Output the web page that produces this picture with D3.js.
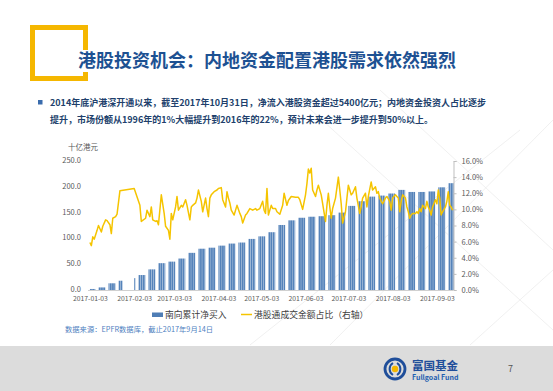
<!doctype html>
<html lang="zh">
<head>
<meta charset="UTF-8">
<title>港股投资机会</title>
<style>
  body { margin: 0; background: #fff; }
  text { font-family: "Noto Sans CJK SC", "Noto Sans", sans-serif; }
</style>
</head>
<body>
<svg id="slide" width="553" height="391"></svg>
<script src="https://d3js.org/d3.v7.min.js"></script>
<script>
// weekly cumulative southbound net buy (HKD bn): [first trading day, last trading day, value]
const netBuyWeeks = [
  ["01-03", "01-06", 2], ["01-09", "01-13", 5], ["01-16", "01-20", 13], ["01-23", "01-25", 18],
  ["02-03", "02-03", 23], ["02-06", "02-10", 29], ["02-13", "02-17", 40], ["02-20", "02-24", 52],
  ["02-27", "03-03", 55], ["03-06", "03-10", 61], ["03-13", "03-17", 72], ["03-20", "03-24", 80],
  ["03-27", "03-31", 82], ["04-03", "04-07", 86], ["04-10", "04-14", 90], ["04-17", "04-21", 92],
  ["04-24", "04-28", 99], ["05-01", "05-05", 104], ["05-08", "05-12", 112], ["05-15", "05-19", 126],
  ["05-22", "05-26", 135], ["05-29", "06-02", 140], ["06-05", "06-09", 142], ["06-12", "06-16", 143],
  ["06-19", "06-23", 145], ["06-26", "06-30", 150], ["07-03", "07-07", 163], ["07-10", "07-14", 172],
  ["07-17", "07-21", 181], ["07-24", "07-28", 183], ["07-31", "08-04", 187], ["08-07", "08-11", 194],
  ["08-14", "08-18", 190], ["08-21", "08-25", 190], ["08-28", "09-01", 191], ["09-04", "09-08", 199],
  ["09-11", "09-14", 207]
];

// share of Stock Connect in turnover (%), right axis
const turnoverShare = [
  ["01-03", 5.9], ["01-04", 5.5], ["01-05", 6.6], ["01-06", 6.3], ["01-08", 7.4], ["01-09", 8.0],
  ["01-11", 7.2], ["01-12", 7.9], ["01-14", 8.7], ["01-15", 8.6], ["01-17", 8.1], ["01-18", 7.0],
  ["01-19", 8.9], ["01-21", 9.1], ["01-22", 9.4], ["01-24", 12.3], ["02-03", 12.6], ["02-07", 10.5],
  ["02-08", 8.5], ["02-11", 8.9], ["02-12", 9.9], ["02-14", 9.1], ["02-15", 10.3], ["02-16", 8.7],
  ["02-18", 8.5], ["02-19", 8.6], ["02-20", 8.1], ["02-22", 11.8], ["02-24", 9.5], ["02-25", 7.9],
  ["02-27", 7.4], ["02-28", 6.3], ["03-01", 9.5], ["03-02", 8.7], ["03-04", 10.3], ["03-05", 11.6],
  ["03-06", 9.9], ["03-08", 10.5], ["03-09", 10.3], ["03-11", 11.2], ["03-12", 10.5], ["03-14", 8.7],
  ["03-15", 10.3], ["03-16", 10.5], ["03-18", 10.8], ["03-19", 11.4], ["03-20", 12.4], ["03-22", 11.0],
  ["03-23", 9.7], ["03-25", 11.4], ["03-26", 10.1], ["03-27", 9.1], ["03-28", 11.4], ["03-29", 11.8],
  ["03-31", 12.2], ["04-02", 12.4], ["04-03", 12.6], ["04-05", 12.7], ["04-06", 11.2], ["04-08", 10.3],
  ["04-09", 12.2], ["04-10", 11.4], ["04-11", 10.8], ["04-12", 9.9], ["04-14", 9.3], ["04-16", 10.5],
  ["04-18", 9.5], ["04-19", 9.1], ["04-20", 8.3], ["04-22", 9.3], ["04-23", 9.5], ["04-25", 10.1],
  ["04-27", 9.9], ["04-29", 10.1], ["04-30", 9.9], ["05-02", 10.1], ["05-04", 11.0], ["05-05", 9.9],
  ["05-06", 9.5], ["05-07", 12.6], ["05-08", 9.3], ["05-10", 10.5], ["05-11", 10.1], ["05-13", 10.1],
  ["05-14", 9.7], ["05-16", 9.4], ["05-18", 10.5], ["05-19", 12.0], ["05-21", 10.5], ["05-22", 11.1],
  ["05-24", 11.6], ["05-27", 11.5], ["05-29", 11.5], ["05-30", 11.2], ["06-01", 10.0], ["06-03", 11.8],
  ["06-04", 13.2], ["06-05", 15.0], ["06-06", 14.5], ["06-07", 15.1], ["06-08", 12.4], ["06-10", 11.6],
  ["06-11", 12.4], ["06-12", 13.0], ["06-14", 11.8], ["06-15", 10.7], ["06-17", 8.5], ["06-18", 10.5],
  ["06-19", 12.0], ["06-20", 10.3], ["06-21", 8.9], ["06-22", 10.1], ["06-24", 11.4], ["06-26", 14.0],
  ["06-27", 12.4], ["06-28", 10.7], ["06-29", 8.3], ["07-01", 9.7], ["07-02", 11.4], ["07-03", 13.0],
  ["07-04", 12.4], ["07-05", 11.8], ["07-06", 12.0], ["07-08", 12.8], ["07-09", 11.4], ["07-11", 9.5],
  ["07-12", 10.3], ["07-13", 11.4], ["07-15", 12.0], ["07-16", 10.3], ["07-17", 11.6], ["07-19", 13.4],
  ["07-20", 12.4], ["07-22", 12.8], ["07-23", 12.0], ["07-24", 12.2], ["07-25", 11.4], ["07-26", 11.0],
  ["07-27", 10.7], ["07-29", 11.4], ["07-30", 11.6], ["08-01", 11.0], ["08-02", 9.9], ["08-03", 11.4],
  ["08-05", 11.8], ["08-06", 11.6], ["08-07", 11.4], ["08-08", 9.7], ["08-09", 11.0], ["08-10", 11.8],
  ["08-12", 11.4], ["08-13", 10.3], ["08-14", 9.7], ["08-15", 8.9], ["08-16", 9.3], ["08-17", 9.5],
  ["08-19", 9.5], ["08-20", 9.7], ["08-21", 9.5], ["08-22", 10.1], ["08-23", 9.7], ["08-24", 10.5],
  ["08-26", 10.1], ["08-27", 11.0], ["08-28", 10.3], ["08-29", 9.9], ["08-30", 9.3], ["08-31", 10.3],
  ["09-02", 11.2], ["09-03", 10.7], ["09-04", 12.4], ["09-05", 11.4], ["09-06", 9.3], ["09-07", 9.7],
  ["09-09", 10.3], ["09-10", 11.0], ["09-11", 12.2], ["09-12", 10.5], ["09-13", 10.3], ["09-14", 9.9]
];

const dateTicks = ["01-03", "02-03", "03-03", "04-03", "05-03", "06-03", "07-03", "08-03", "09-03"];
const leftTicks = [0, 50, 100, 150, 200, 250];
const rightTicks = [0, 2, 4, 6, 8, 10, 12, 14, 16];

const titleText = "港股投资机会：内地资金配置港股需求依然强烈";
const bulletLines = [
  "2014年底沪港深开通以来，截至2017年10月31日，净流入港股资金超过5400亿元；内地资金投资人占比逐步",
  "提升，市场份额从1996年的1%大幅提升到2016年的22%，预计未来会进一步提升到50%以上。"
];
const legendNames = ["南向累计净买入", "港股通成交金额占比（右轴）"];
const sourceText = "数据来源：EPFR数据库，截止2017年9月14日";

const parseDay = s => d3.timeParse("%Y-%m-%d")("2017-" + s);

const svg = d3.select("#slide");

// faint background decoration
const deco = svg.append("g").attr("stroke", "#ececec").attr("stroke-width", 0.8).attr("fill", "none");
[[300, 100, 553, 330], [380, 90, 553, 250], [553, 120, 330, 345], [470, 345, 553, 270], [250, 345, 520, 130]]
  .forEach(l => deco.append("line").attr("x1", l[0]).attr("y1", l[1]).attr("x2", l[2]).attr("y2", l[3]));

// footer band
svg.append("rect").attr("x", 0).attr("y", 346).attr("width", 553).attr("height", 45).attr("fill", "#dcdcdc");

// yellow frame + title
svg.append("rect").attr("x", 32.5).attr("y", 27.5).attr("width", 53).attr("height", 51)
  .attr("fill", "none").attr("stroke", "#f5b700").attr("stroke-width", 5);
svg.append("rect").attr("x", 76).attr("y", 50).attr("width", 384).attr("height", 22).attr("fill", "#fff");
svg.append("text").attr("x", 78).attr("y", 67).attr("font-size", 18).attr("font-weight", "bold")
  .attr("fill", "#1d5192").text(titleText);

// bullet
svg.append("rect").attr("x", 38).attr("y", 100).attr("width", 4.5).attr("height", 4.5).attr("fill", "#3a6cad");
svg.selectAll(".bullet").data(bulletLines).enter().append("text")
  .attr("class", "bullet")
  .attr("x", 50).attr("y", (d, i) => 106 + i * 17)
  .attr("font-size", 9).attr("font-weight", "bold").attr("fill", "#213f6c")
  .text(d => d);

// chart
let x = d3.scaleTime().domain([parseDay("01-02"), parseDay("09-15")]).range([88.5, 454]);
let y = d3.scaleLinear().domain([0, 250]).range([290, 161]);
let yR = d3.scaleLinear().domain([0, 16]).range([290, 161]);

const defs = svg.append("defs");
const pat = defs.append("pattern").attr("id", "stripe").attr("patternUnits", "userSpaceOnUse")
  .attr("width", 2.2).attr("height", 4);
pat.append("rect").attr("width", 2.2).attr("height", 4).attr("fill", "#a9c0dc");
pat.append("rect").attr("width", 1.5).attr("height", 4).attr("fill", "#5583ba");

const oneDay = 864e5;
svg.append("g").selectAll("rect").data(netBuyWeeks).enter().append("rect")
  .attr("x", d => x(parseDay(d[0])))
  .attr("width", d => x(new Date(+parseDay(d[1]) + oneDay)) - x(parseDay(d[0])) - 0.3)
  .attr("y", d => y(d[2]))
  .attr("height", d => y(0) - y(d[2]))
  .attr("fill", "url(#stripe)");

// bottom axis
svg.append("line").attr("x1", 88).attr("x2", 453).attr("y1", 290.5).attr("y2", 290.5)
  .attr("stroke", "#d0d0d0").attr("stroke-width", 1);
svg.append("g")
  .attr("transform", "translate(0,290)")
  .call(d3.axisBottom(x).tickValues(dateTicks.map(parseDay)).tickFormat(d3.timeFormat("%Y-%m-%d")).tickSize(0).tickPadding(6))
  .call(g => g.select(".domain").remove())
  .selectAll("text").attr("font-size", 6.8).attr("fill", "#595959")
  .attr("font-family", "Liberation Sans, Arial, sans-serif");

// left axis
svg.append("g")
  .attr("transform", "translate(81,-1)")
  .call(d3.axisLeft(y).tickValues(leftTicks).tickFormat(d3.format(".1f")).tickSize(0).tickPadding(0))
  .call(g => g.select(".domain").remove())
  .selectAll("text").attr("font-size", 7.5).attr("fill", "#595959")
  .attr("font-family", "Liberation Sans, Arial, sans-serif");

// right axis
const rAxis = svg.append("g")
  .attr("transform", "translate(453.5,0)")
  .call(d3.axisRight(yR).tickValues(rightTicks).tickFormat(d => d.toFixed(1) + "%").tickSizeOuter(0).tickSize(3).tickPadding(5));
rAxis.select(".domain").attr("stroke", "#bfbfbf");
rAxis.selectAll(".tick line").attr("stroke", "#bfbfbf");
rAxis.selectAll("text").attr("font-size", 7.5).attr("fill", "#595959")
  .attr("font-family", "Liberation Sans, Arial, sans-serif");

svg.append("text").attr("x", 68).attr("y", 150).attr("font-size", 7.5).attr("fill", "#595959").text("十亿港元");

// share line
const shareLine = d3.line()
  .x(d => x(parseDay(d[0])))
  .y(d => yR(d[1]));
svg.append("path")
  .datum(turnoverShare)
  .attr("d", shareLine)
  .attr("fill", "none")
  .attr("stroke", "#f5c400")
  .attr("stroke-width", 1.5)
  .attr("stroke-linejoin", "round");

// legend
const lg = svg.append("g").attr("font-size", 8.8).attr("fill", "#404040");
lg.append("rect").attr("x", 152).attr("y", 312.5).attr("width", 11).attr("height", 4.5).attr("fill", "#4f7db5");
lg.append("text").attr("x", 165).attr("y", 318).text(legendNames[0]);
lg.append("line").attr("x1", 241).attr("x2", 252).attr("y1", 314.5).attr("y2", 314.5)
  .attr("stroke", "#f5c400").attr("stroke-width", 1.5);
lg.append("text").attr("x", 254).attr("y", 318).text(legendNames[1]);

// source
svg.append("text").attr("x", 65).attr("y", 332).attr("font-size", 7.3).attr("fill", "#4f7fbf").text(sourceText);

// logo
const logo = svg.append("g").attr("transform", "translate(395,369)");
logo.append("circle").attr("r", 10).attr("fill", "none").attr("stroke", "#1f4e9a").attr("stroke-width", 2.8);
logo.append("path").attr("d", "M-2,-6 A7,7 0 0,0 -2,6").attr("fill", "none").attr("stroke", "#1f4e9a").attr("stroke-width", 2);
logo.append("path").attr("d", "M2,-6 A7,7 0 0,1 2,6").attr("fill", "none").attr("stroke", "#1f4e9a").attr("stroke-width", 2);
logo.append("circle").attr("r", 3.2).attr("fill", "#f5b700");
svg.append("text").attr("x", 412).attr("y", 370).attr("font-size", 11.5).attr("font-weight", "bold")
  .attr("fill", "#1f4e9a").text("富国基金");
svg.append("text").attr("x", 412).attr("y", 380).attr("font-size", 7).attr("font-weight", "bold")
  .attr("fill", "#1f5fb0").attr("font-family", "Liberation Sans, Arial, sans-serif").text("Fullgoal Fund");
svg.append("text").attr("x", 508).attr("y", 372).attr("font-size", 9).attr("fill", "#555")
  .attr("font-family", "Liberation Sans, Arial, sans-serif").text("7");
</script>
</body>
</html>
